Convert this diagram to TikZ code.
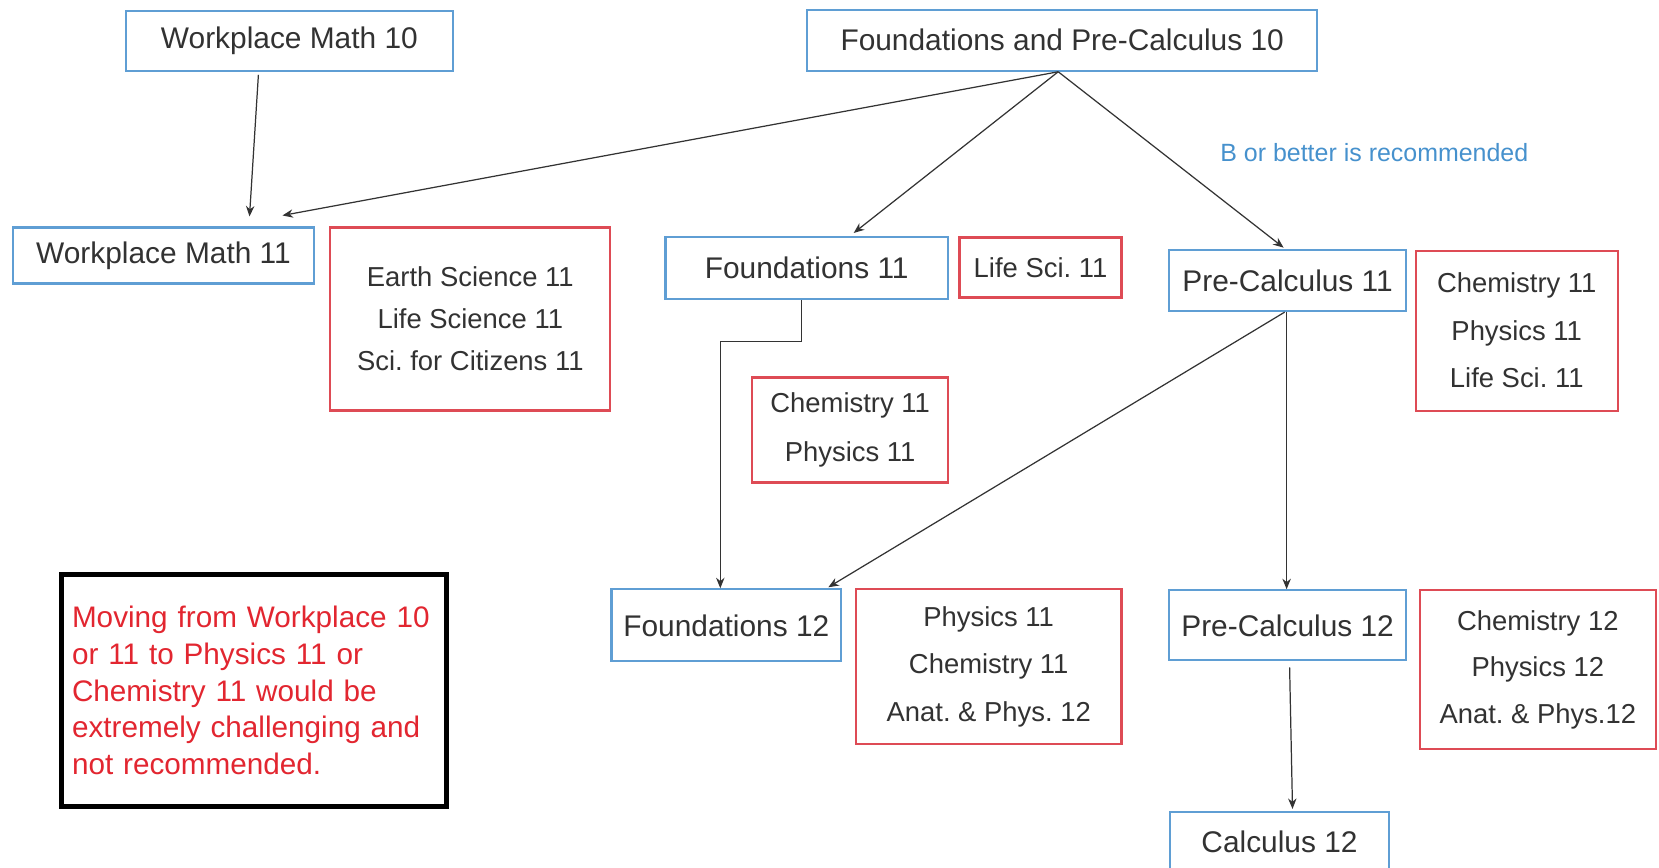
\documentclass[tikz,border=0pt]{standalone}
\usepackage{fontspec}
\setmainfont{Liberation Sans}
\usetikzlibrary{arrows.meta}
\frenchspacing

\definecolor{boxblue}{RGB}{95,158,212}
\definecolor{boxred}{RGB}{222,75,85}
\definecolor{textgray}{RGB}{50,50,50}
\definecolor{warnred}{RGB}{226,38,48}
\definecolor{noteblue}{RGB}{70,145,205}

\begin{document}
\begin{tikzpicture}[
		x=0.1mm, y=-0.1mm,
		course/.style = {draw=boxblue, line width=0.6pt, text=textgray, inner sep=0pt,
			font=\fontsize{8.5}{10}\selectfont},
		sci/.style = {draw=boxred, line width=0.6pt, text=textgray, inner sep=0pt, align=center,
			font=\fontsize{7.8}{13.5}\selectfont},
		warn/.style = {draw=black, line width=1.3pt, text=warnred, align=left, inner xsep=1.05mm,
			inner ysep=0pt, font=\fontsize{8.45}{10.4}\selectfont},
		note/.style = {text=noteblue, inner sep=0pt, font=\fontsize{7.1}{9}\selectfont},
		arr/.style = {-{Stealth[length=3pt,width=2.4pt]}, line width=0.35pt, draw=black!80}
	]
	\useasboundingbox (0,0) rectangle (1659,867);
	\clip (0,0) rectangle (1659,867);

	% Grade 10.
	\node[course, minimum width=32.7mm, minimum height=6mm] (wm10) at (289.4,40.7) {Workplace Math 10};
	\node[course, minimum width=51mm, minimum height=6.1mm] (fpc10) at (1062.2,40.2) {Foundations and Pre-Calculus 10};
	\node[note] (better) at (1374.3,152.4) {B or better is recommended};

	% Grade 11.
	\node[course, minimum width=30.15mm, minimum height=5.6mm] (wm11) at (163.5,255.5) {Workplace Math 11};
	\node[sci, minimum width=28mm, minimum height=18.3mm, font=\fontsize{7.8}{11.9}\selectfont] (wm11sci) at (470.3,319)
		{Earth Science 11\\Life Science 11\\Sci. for Citizens 11};
	\node[course, minimum width=28.25mm, minimum height=6.24mm] (f11) at (806.7,268.2) {Foundations 11};
	\node[sci, line width=0.85pt, minimum width=16.2mm, minimum height=6mm] (f11life) at (1040.5,267.2) {Life Sci. 11};
	\node[sci, minimum width=19.6mm, minimum height=10.5mm, font=\fontsize{7.8}{13.8}\selectfont] (f11sci) at (850.1,430)
		{Chemistry 11\\Physics 11};
	\node[course, minimum width=23.7mm, minimum height=6.14mm] (pc11) at (1287.6,280.4) {Pre-Calculus 11};
	\node[sci, minimum width=20.2mm, minimum height=16mm] (pc11sci) at (1516.7,330.6)
		{Chemistry 11\\Physics 11\\Life Sci. 11};

	% Grade 12.
	\node[course, minimum width=22.96mm, minimum height=7.2mm] (f12) at (726.3,625.3) {Foundations 12};
	\node[sci, minimum width=26.56mm, minimum height=15.45mm] (f12sci) at (988.7,666.5)
		{Physics 11\\Chemistry 11\\Anat. \& Phys. 12};
	\node[course, minimum width=23.7mm, minimum height=7mm] (pc12) at (1287.6,625.3) {Pre-Calculus 12};
	\node[sci, minimum width=23.6mm, minimum height=15.86mm, font=\fontsize{7.8}{13.2}\selectfont] (pc12sci) at (1537.8,669.7)
		{Chemistry 12\\Physics 12\\Anat. \& Phys.12};
	\node[course, minimum width=21.9mm, minimum height=6mm] (calc12) at (1279.5,842) {Calculus 12};

	% Warning.
	\node[warn, text width=36.4mm, minimum height=23.2mm] (warning) at (254,690.4)
		{Moving from Workplace 10\\or 11 to Physics 11 or\\Chemistry 11 would be\\extremely challenging and\\not recommended.};

	\draw[arr] ([shift={(-31,3)}]wm10.south) -- ([shift={(86,-10)}]wm11.north);
	\draw[arr] ([shift={(-4,0)}]fpc10.south) -- ([shift={(119,-11)}]wm11.north);
	\draw[arr] ([shift={(-4,0)}]fpc10.south) -- ([shift={(47,-3)}]f11.north);
	\draw[arr] ([shift={(-4,0)}]fpc10.south) -- ([shift={(-4,-1)}]pc11.north);
	\draw[arr] ([shift={(-5,0)}]f11.south) -- ++(0,41) -| ([shift={(-6,0)}]f12.north);
	\draw[arr] ([shift={(-3,0)}]pc11.south) -- ([shift={(102,-1)}]f12.north);
	\draw[arr] ([shift={(-1,0)}]pc11.south) -- ([shift={(-1,0)}]pc12.north);
	\draw[arr] ([shift={(2,6)}]pc12.south) -- ([shift={(13,-2)}]calc12.north);
\end{tikzpicture}
\end{document}
